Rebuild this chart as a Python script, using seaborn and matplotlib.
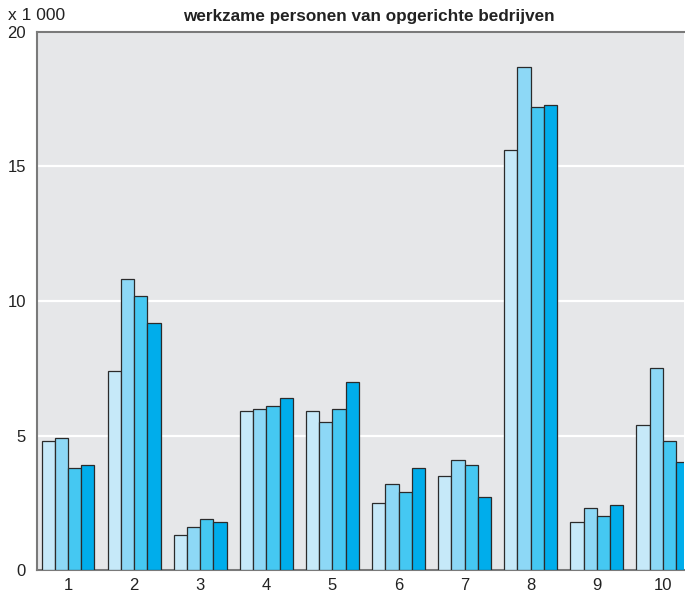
import matplotlib
matplotlib.use("Agg")
import matplotlib.pyplot as plt
import seaborn as sns
import pandas as pd

categories = ["1", "2", "3", "4", "5", "6", "7", "8", "9", "10"]
series_names = ["reeks 1", "reeks 2", "reeks 3", "reeks 4"]
series_1 = [4.8, 7.4, 1.3, 5.9, 5.9, 2.5, 3.5, 15.6, 1.8, 5.4]
series_2 = [4.9, 10.8, 1.6, 6.0, 5.5, 3.2, 4.1, 18.7, 2.3, 7.5]
series_3 = [3.8, 10.2, 1.9, 6.1, 6.0, 2.9, 3.9, 17.2, 2.0, 4.8]
series_4 = [3.9, 9.2, 1.8, 6.4, 7.0, 3.8, 2.7, 17.3, 2.4, 4.0]
y_ticks = [0, 5, 10, 15, 20]
colors = ["#C6E9F9", "#8DD8F6", "#45C8F2", "#00ADEB"]

rows = []
for name, vals in zip(series_names, [series_1, series_2, series_3, series_4]):
    for c, v in zip(categories, vals):
        rows.append({"cat": c, "serie": name, "val": v})
df = pd.DataFrame(rows)

sns.set_theme(style="white")
plt.rcParams["font.family"] = ["Liberation Sans", "DejaVu Sans"]

fig = plt.figure(figsize=(6.85, 5.93), dpi=100)
ax = fig.add_axes([37 / 685, 1 - 570 / 593, (684 - 37) / 685, (570 - 32) / 593])
ax.set_facecolor("#E6E7E9")

sns.barplot(data=df, x="cat", y="val", hue="serie", order=categories,
            hue_order=series_names, palette=colors, saturation=1, width=0.8,
            edgecolor="#2b2b2b", linewidth=0.9, legend=False, ax=ax, zorder=3)

ax.set_ylim(0, 20)
ax.set_xlim(-0.47, 9.32)
ax.set_yticks(y_ticks)
ax.set_yticklabels([str(t) for t in y_ticks], fontsize=12, color="#222222")
ax.tick_params(axis="x", labelsize=12, colors="#222222", length=0, pad=6)
ax.tick_params(axis="y", length=0, pad=8)
ax.yaxis.grid(True, color="white", linewidth=1.6, zorder=0)
ax.set_axisbelow(True)
ax.set_xlabel("")
ax.set_ylabel("")

for side in ["left", "top", "bottom"]:
    ax.spines[side].set_visible(True)
    ax.spines[side].set_color("#7a7a7a")
    ax.spines[side].set_linewidth(1.5)
ax.spines["right"].set_visible(False)

fig.text(8 / 685, 1 - 16 / 593, "x 1 000", fontsize=12.5, color="#222222",
         ha="left", va="center")
fig.text(369 / 685, 1 - 17 / 593, "werkzame personen van opgerichte bedrijven",
         fontsize=12.3, fontweight="bold", color="#222222", ha="center", va="center")

fig.savefig("out.png", dpi=100)
